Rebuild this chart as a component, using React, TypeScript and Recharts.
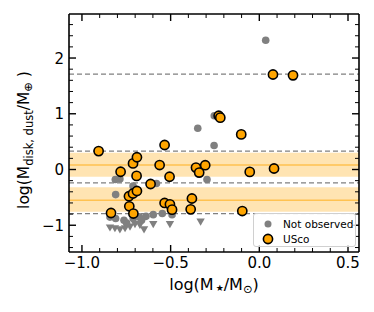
import React from "react";
import {
  ScatterChart,
  Scatter,
  XAxis,
  YAxis,
  ReferenceArea,
  ReferenceLine,
  Label,
  Legend,
} from "recharts";

// USco sample (log M*/Msun, log Mdust/Mearth)
const uscoX = [
  -0.906, -0.836, -0.782, -0.735, -0.733, -0.712, -0.712, -0.71, -0.69, -0.692, -0.69,
  -0.613, -0.562, -0.534, -0.534, -0.506, -0.504, -0.492, -0.387, -0.38, -0.357, -0.339,
  -0.305, -0.229, -0.22, -0.102, -0.096, -0.054, 0.077, 0.083, 0.19,
];
const uscoY = [
  0.33, -0.78, -0.04, -0.48, -0.66, 0.11, -0.43, -0.79, 0.22, -0.115, -0.385,
  -0.26, 0.08, 0.44, -0.6, -0.13, -0.625, -0.72, -0.715, -0.52, 0.035, -0.055,
  0.077, 0.965, 0.93, 0.63, -0.745, -0.043, 1.705, 0.018, 1.69,
];

// not observed, detections
const notObsX = [
  0.036, -0.254, -0.347, -0.255, -0.295, -0.58, -0.812, -0.786, -0.81, -0.712,
  -0.842, -0.81, -0.763, -0.748, -0.711, -0.677, -0.664, -0.639, -0.598, -0.547, -0.492,
];
const notObsY = [
  2.32, 0.965, 0.74, 0.43, -0.18, -0.25, -0.18, -0.17, -0.45, -0.295,
  -0.854, -0.88, -0.91, -0.96, -0.88, -0.85, -0.91, -0.84, -0.81, -0.79, -0.81,
];

// not observed, upper limits
const limitX = [-0.842, -0.814, -0.786, -0.757, -0.729, -0.701, -0.673, -0.65, -0.598, -0.504, -0.331];
const limitY = [-1.045, -1.06, -1.08, -1.06, -1.03, -0.985, -1.0, -1.08, -0.985, -0.985, -0.94];

const dashLevels = [1.71, 0.33, -0.24, -0.79];
const bandLow = [-0.13, -0.76];
const bandHigh = [0.3, -0.32];
const bandMid = [0.08, -0.55];

const xTicks = [-1.0, -0.9, -0.8, -0.7, -0.6, -0.5, -0.4, -0.3, -0.2, -0.1, 0.0, 0.1, 0.2, 0.3, 0.4, 0.5];
const yTicks = [-1.4, -1.2, -1.0, -0.8, -0.6, -0.4, -0.2, 0.0, 0.2, 0.4, 0.6, 0.8, 1.0, 1.2, 1.4, 1.6, 1.8, 2.0, 2.2, 2.4, 2.6];

const usco = uscoX.map((x, i) => ({ x, y: uscoY[i] }));
const notObs = notObsX.map((x, i) => ({ x, y: notObsY[i] }));
const limits = limitX.map((x, i) => ({ x, y: limitY[i] }));

const FONT = "DejaVu Sans";
const ORANGE = "#FFA500";
const GREY = "#808080";
const X_DOMAIN = [-1.073, 0.562];
const Y_DOMAIN = [-1.48, 2.79];

const isMajorX = (v: number) => Math.abs(v * 2 - Math.round(v * 2)) < 1e-6;
const isMajorY = (v: number) => Math.abs(v - Math.round(v)) < 1e-6;
const fmt = (s: string) => s.replace("-", "\u2212");

const BottomTick = (props: any) => {
  const { x, y, payload } = props;
  const v = payload.value;
  const major = isMajorX(v);
  return (
    <g>
      <line x1={x} x2={x} y1={y} y2={y - (major ? 7 : 4)} stroke="#000" strokeWidth={major ? 1.4 : 1} />
      {major && (
        <text x={x} y={y + 16} textAnchor="middle" fontSize={15} fontFamily={FONT} fill="#000">
          {fmt(v.toFixed(1))}
        </text>
      )}
    </g>
  );
};

const TopTick = (props: any) => {
  const { x, y, payload } = props;
  const major = isMajorX(payload.value);
  return <line x1={x} x2={x} y1={y} y2={y + (major ? 7 : 4)} stroke="#000" strokeWidth={major ? 1.4 : 1} />;
};

const LeftTick = (props: any) => {
  const { x, y, payload } = props;
  const v = payload.value;
  const major = isMajorY(v);
  return (
    <g>
      <line x1={x} x2={x + (major ? 7 : 4)} y1={y} y2={y} stroke="#000" strokeWidth={major ? 1.4 : 1} />
      {major && (
        <text x={x - 5} y={y + 5.5} textAnchor="end" fontSize={15} fontFamily={FONT} fill="#000">
          {fmt(String(Math.round(v)))}
        </text>
      )}
    </g>
  );
};

const RightTick = (props: any) => {
  const { x, y, payload } = props;
  const major = isMajorY(payload.value);
  return <line x1={x} x2={x - (major ? 7 : 4)} y1={y} y2={y} stroke="#000" strokeWidth={major ? 1.4 : 1} />;
};

const UscoDot = (props: any) => (
  <circle cx={props.cx} cy={props.cy} r={4.6} fill={ORANGE} stroke="#000" strokeWidth={1.6} />
);
const GreyDot = (props: any) => <circle cx={props.cx} cy={props.cy} r={3.8} fill={GREY} />;
const GreyTriangle = (props: any) => {
  const { cx, cy } = props;
  const s = 4.2;
  return <path d={`M${cx - s},${cy - s * 0.8} L${cx + s},${cy - s * 0.8} L${cx},${cy + s * 0.9} Z`} fill={GREY} />;
};

const YLabel = (props: any) => {
  const { viewBox } = props;
  const cx = viewBox.x + 29;
  const cy = viewBox.y + viewBox.height / 2 + 7;
  return (
    <text
      x={cx}
      y={cy}
      transform={`rotate(-90 ${cx} ${cy})`}
      textAnchor="middle"
      fontSize={15.5}
      fontFamily={FONT}
      fill="#000"
    >
      log(M
      <tspan fontSize={11.5} dy={4}>disk, dust</tspan>
      <tspan dy={-4}>/M</tspan>
      <tspan fontSize={11.5} dy={3}>{"\u2295"}</tspan>
      <tspan dy={-3}>{" )"}</tspan>
    </text>
  );
};

const XLabel = (props: any) => {
  const { viewBox } = props;
  const cx = viewBox.x + viewBox.width / 2;
  return (
    <text x={cx} y={viewBox.y + 38} textAnchor="middle" fontSize={16} fontFamily={FONT} fill="#000">
      log(M
      <tspan fontSize={9} dx={2} dy={1}>{"\u2605"}</tspan>
      <tspan dy={-1}>/M</tspan>
      <tspan fontSize={11.5} dy={3}>{"\u2299"}</tspan>
      <tspan dy={-3}>)</tspan>
    </text>
  );
};

const LegendBox = () => (
  <div
    style={{
      width: 103,
      height: 34,
      boxSizing: "border-box",
      border: "1px solid #d0d0d0",
      borderRadius: 3,
      background: "rgba(255,255,255,0.8)",
      position: "relative",
    }}
  >
    <svg width={103} height={34} style={{ position: "absolute", left: 0, top: 0 }}>
      <circle cx={14} cy={10} r={3.5} fill={GREY} />
      <text x={29} y={14} fontSize={10.5} fontFamily={FONT} fill="#000">Not observed</text>
      <circle cx={14} cy={25} r={4.6} fill={ORANGE} stroke="#000" strokeWidth={1.6} />
      <text x={29} y={29} fontSize={10.5} fontFamily={FONT} fill="#000">USco</text>
    </svg>
  </div>
);

export default function App() {
  return (
    <div style={{ position: "absolute", left: 0, top: 0, background: "#fff" }}>
      <ScatterChart width={374} height={312} margin={{ top: 13, right: 14, bottom: 0, left: 0 }}>
        <XAxis
          xAxisId="b"
          type="number"
          dataKey="x"
          domain={X_DOMAIN}
          allowDataOverflow
          ticks={xTicks}
          interval={0}
          height={60}
          tickSize={0}
          tickMargin={0}
          tickLine={false}
          tick={BottomTick}
          axisLine={{ stroke: "#000", strokeWidth: 1.6 }}
        >
          <Label content={XLabel} />
        </XAxis>
        <XAxis
          xAxisId="t"
          orientation="top"
          type="number"
          dataKey="x"
          domain={X_DOMAIN}
          allowDataOverflow
          ticks={xTicks}
          interval={0}
          height={1}
          tickSize={0}
          tickMargin={0}
          tickLine={false}
          tick={TopTick}
          axisLine={{ stroke: "#000", strokeWidth: 1.6 }}
        />
        <YAxis
          yAxisId="l"
          type="number"
          dataKey="y"
          domain={Y_DOMAIN}
          allowDataOverflow
          ticks={yTicks}
          interval={0}
          width={69}
          tickSize={0}
          tickMargin={0}
          tickLine={false}
          tick={LeftTick}
          axisLine={{ stroke: "#000", strokeWidth: 1.6 }}
        >
          <Label content={YLabel} />
        </YAxis>
        <YAxis
          yAxisId="r"
          orientation="right"
          type="number"
          dataKey="y"
          domain={Y_DOMAIN}
          allowDataOverflow
          ticks={yTicks}
          interval={0}
          width={1}
          tickSize={0}
          tickMargin={0}
          tickLine={false}
          tick={RightTick}
          axisLine={{ stroke: "#000", strokeWidth: 1.6 }}
        />
        {bandLow.map((lo, i) => (
          <ReferenceArea
            key={"band" + i}
            xAxisId="b"
            yAxisId="l"
            y1={lo}
            y2={bandHigh[i]}
            fill={ORANGE}
            fillOpacity={0.3}
            stroke="none"
          />
        ))}
        {bandMid.map((m, i) => (
          <ReferenceLine key={"mid" + i} xAxisId="b" yAxisId="l" y={m} stroke={ORANGE} strokeOpacity={0.55} strokeWidth={1.5} />
        ))}
        {dashLevels.map((d, i) => (
          <ReferenceLine
            key={"dash" + i}
            xAxisId="b"
            yAxisId="l"
            y={d}
            stroke={GREY}
            strokeWidth={1.3}
            strokeDasharray="5 3"
          />
        ))}
        <Scatter
          name="Not observed"
          data={notObs}
          xAxisId="b"
          yAxisId="l"
          shape={GreyDot}
          isAnimationActive={false}
        />
        <Scatter
          name="limits"
          data={limits}
          xAxisId="b"
          yAxisId="l"
          shape={GreyTriangle}
          legendType="none"
          isAnimationActive={false}
        />
        <Scatter name="USco" data={usco} xAxisId="b" yAxisId="l" shape={UscoDot} isAnimationActive={false} />
        <Legend
          layout="horizontal"
          verticalAlign="middle"
          content={LegendBox}
          wrapperStyle={{ left: 253, top: 213, width: 103, height: 34 }}
        />
      </ScatterChart>
    </div>
  );
}
